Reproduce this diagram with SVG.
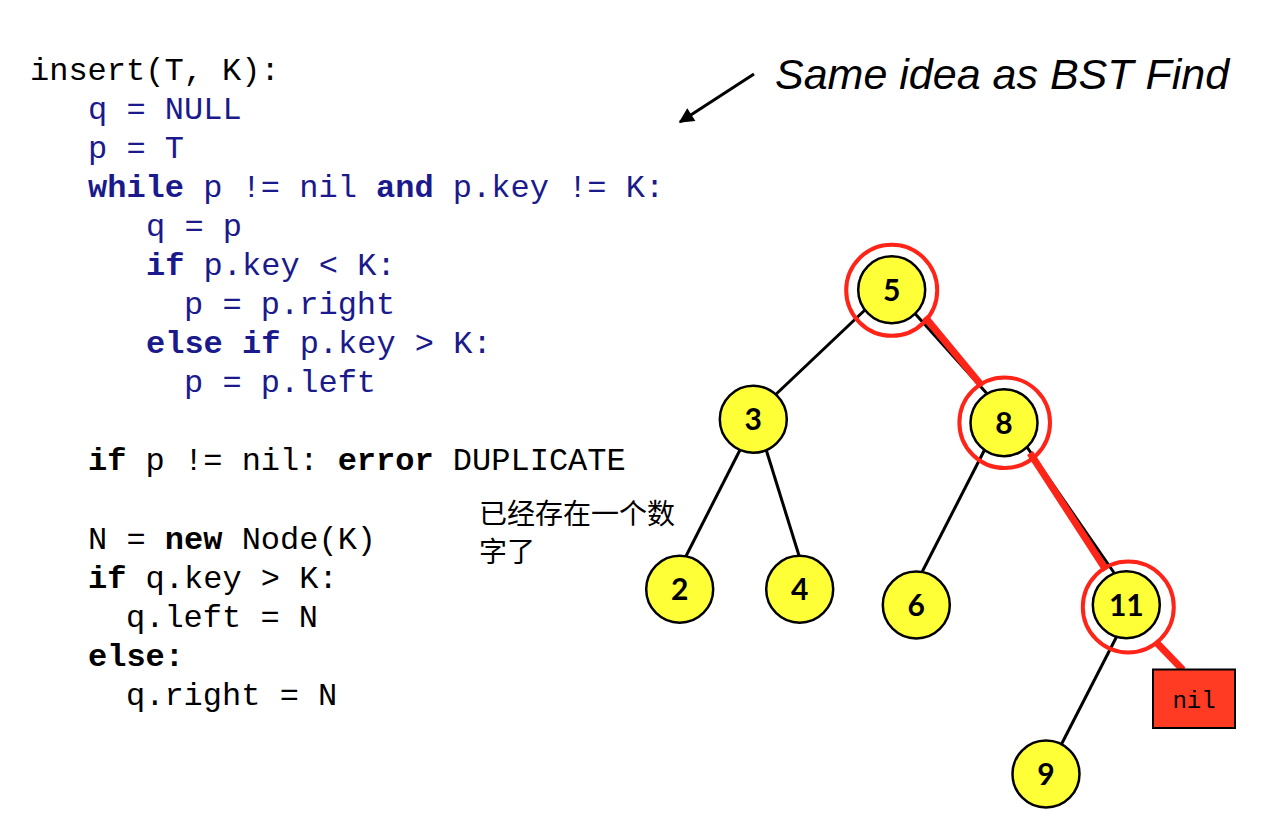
<svg xmlns="http://www.w3.org/2000/svg" width="1285" height="824" viewBox="0 0 1285 824">
<defs>
<style>
.code{font-family:"Liberation Mono","Courier New",monospace;font-size:32px;}
.blue{fill:#1a1a8c;}
.blk{fill:#000;}
.b{font-weight:bold;}
.edge{stroke:#000;stroke-width:3;fill:none;}
.path{stroke:#ff2418;stroke-width:7;fill:none;}
.node circle.n{fill:#ffff38;stroke:#000;stroke-width:2.5;}
.ring{fill:none;stroke:#ff2418;stroke-width:4;}
.lbl{font-family:Lato,"Open Sans","Liberation Sans",sans-serif;font-weight:bold;font-size:30px;fill:#000;text-anchor:middle;}
</style>
<marker id="ah" viewBox="0 0 10 10" refX="9" refY="5" markerWidth="6" markerHeight="5" orient="auto" markerUnits="strokeWidth">
<path d="M0,0 L10,5 L0,10 z" fill="#000"/>
</marker>
</defs>
<rect width="1285" height="824" fill="#fff"/>

<g id="code" class="code">
<text x="30" y="80" class="blk">insert(T, K):</text>
<text x="88" y="119" class="blue">q = NULL</text>
<text x="88" y="158" class="blue">p = T</text>
<text x="88" y="197" class="blue"><tspan class="b">while</tspan> p != nil <tspan class="b">and</tspan> p.key != K:</text>
<text x="146" y="236" class="blue">q = p</text>
<text x="146" y="275" class="blue"><tspan class="b">if</tspan> p.key &lt; K:</text>
<text x="184" y="314" class="blue">p = p.right</text>
<text x="146" y="353" class="blue"><tspan class="b">else if</tspan> p.key &gt; K:</text>
<text x="184" y="392" class="blue">p = p.left</text>
<text x="88" y="470" class="blk"><tspan class="b">if</tspan> p != nil: <tspan class="b">error</tspan> DUPLICATE</text>
<text x="88" y="549" class="blk">N = <tspan class="b">new</tspan> Node(K)</text>
<text x="88" y="588" class="blk"><tspan class="b">if</tspan> q.key &gt; K:</text>
<text x="126" y="627" class="blk">q.left = N</text>
<text x="88" y="666" class="blk b">else:</text>
<text x="126" y="705" class="blk">q.right = N</text>
</g>

<g id="note-find">
<text x="775" y="89" font-family="'Liberation Sans',Arial,sans-serif" font-style="italic" font-size="43" fill="#000">Same idea as BST Find</text>
<line x1="754" y1="74" x2="680" y2="122" stroke="#000" stroke-width="3" marker-end="url(#ah)"/>
</g>

<g id="note-dup" font-family="'Noto Sans CJK SC',sans-serif" font-size="28" fill="#000">
<text x="479" y="524">已经存在一个数</text>
<text x="479" y="562">字了</text>
</g>

<g id="connectors">
<line class="edge" x1="867" y1="308" x2="772" y2="398"/>
<line class="edge" x1="910" y1="308" x2="990" y2="397"/>
<line class="edge" x1="742" y1="446" x2="683" y2="562"/>
<line class="edge" x1="765" y1="446" x2="801" y2="562"/>
<line class="edge" x1="985" y1="449" x2="919" y2="578"/>
<line class="edge" x1="1020" y1="437" x2="1117" y2="577"/>
<line class="edge" x1="1119" y1="632" x2="1059" y2="749"/>
<line class="path" x1="925" y1="317" x2="982" y2="386"/>
<line class="path" x1="1030" y1="453" x2="1106" y2="570"/>
<line class="path" x1="1156" y1="642" x2="1183" y2="670"/>
</g>

<g id="node-5" class="node"><circle class="n" cx="891.7" cy="289.7" r="33.5"/><text class="lbl" x="891.7" y="300.5">5</text><circle class="ring" cx="891.7" cy="290.3" r="45.5"/></g>
<g id="node-3" class="node"><circle class="n" cx="753.3" cy="419.3" r="33.5"/><text class="lbl" x="753.3" y="430">3</text></g>
<g id="node-8" class="node"><circle class="n" cx="1004" cy="422.7" r="33.5"/><text class="lbl" x="1004" y="433.5">8</text><circle class="ring" cx="1004.7" cy="422.7" r="45.3"/></g>
<g id="node-2" class="node"><circle class="n" cx="679.7" cy="589.3" r="33.5"/><text class="lbl" x="679.7" y="600">2</text></g>
<g id="node-4" class="node"><circle class="n" cx="799.7" cy="589.3" r="33.5"/><text class="lbl" x="799.7" y="600">4</text></g>
<g id="node-6" class="node"><circle class="n" cx="916.3" cy="605" r="33.5"/><text class="lbl" x="916.3" y="616">6</text></g>
<g id="node-11" class="node"><circle class="n" cx="1126.3" cy="604.8" r="33.5"/><text class="lbl" x="1126.3" y="615.5">11</text><circle class="ring" cx="1128.3" cy="607" r="45.5"/></g>
<g id="node-9" class="node"><circle class="n" cx="1046" cy="774" r="33.5"/><text class="lbl" x="1046" y="785">9</text></g>
<g id="node-nil"><rect x="1153" y="669.5" width="82" height="58.5" fill="#ff3b24" stroke="#000" stroke-width="2"/><text x="1194" y="708" font-family="'Liberation Mono','Courier New',monospace" font-size="24" text-anchor="middle" fill="#000">nil</text></g>
</svg>
